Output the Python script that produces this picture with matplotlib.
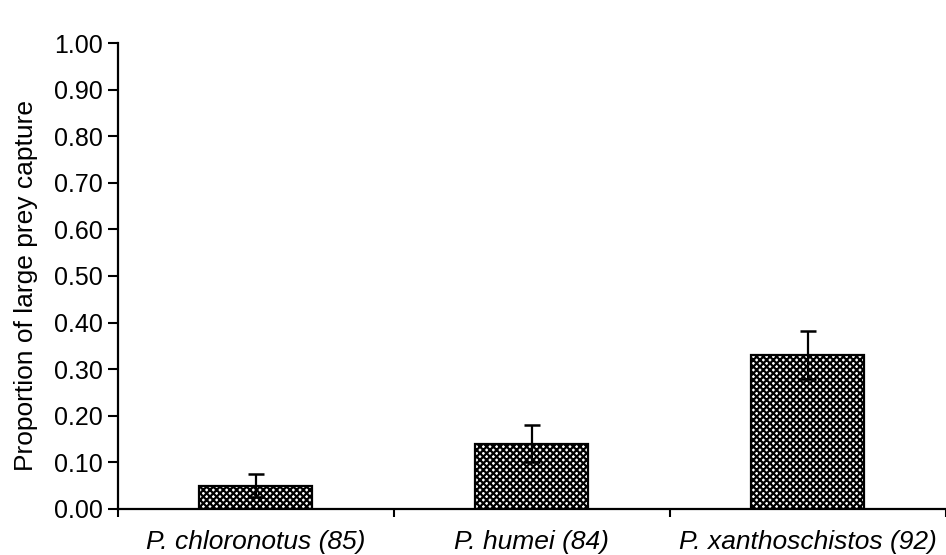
import numpy as np
import matplotlib.pyplot as plt

# proportions of large prey captured, with error bars
species = ["P. chloronotus (85)", "P. humei (84)", "P. xanthoschistos (92)"]
proportion = [0.05, 0.14, 0.33]
error = [0.025, 0.04, 0.052]
y_ticks = [0.0, 0.1, 0.2, 0.3, 0.4, 0.5, 0.6, 0.7, 0.8, 0.9, 1.0]

plt.rcParams["font.family"] = ["Liberation Sans", "DejaVu Sans"]
plt.rcParams["hatch.linewidth"] = 1.6

fig = plt.figure(figsize=(9.46, 5.55), dpi=100)
ax = fig.add_axes([0.1247, 0.083, 0.875, 0.8395])

x = np.arange(len(species))
ax.bar(x, proportion, width=0.41, facecolor="white", edgecolor="black",
       hatch="xxxxx", linewidth=1.6, zorder=2)
ax.errorbar(x, proportion, yerr=error, fmt="none", ecolor="black",
            elinewidth=1.6, capsize=6, capthick=1.8, zorder=3)

ax.set_xlim(-0.5, 2.5)
ax.set_ylim(0, 1.0)
ax.set_yticks(y_ticks)
ax.set_yticklabels([f"{v:.2f}" for v in y_ticks], fontsize=18)
ax.set_ylabel("Proportion of large prey capture", fontsize=19)
ax.yaxis.set_label_coords(-0.097, 0.48)

# category boundaries carry the tick marks, names sit between them
ax.set_xticks([-0.5, 0.5, 1.5, 2.5])
ax.set_xticklabels([])
ax.set_xticks(x, minor=True)
ax.set_xticklabels(species, minor=True, fontsize=19, style="italic")
ax.tick_params(axis="x", which="minor", length=0, pad=15)
ax.tick_params(axis="x", which="major", direction="out", length=6, width=1.5)
ax.tick_params(axis="y", direction="out", length=7, width=1.5, pad=4)

for side in ["top", "right"]:
    ax.spines[side].set_visible(False)
for side in ["left", "bottom"]:
    ax.spines[side].set_linewidth(1.6)

fig.savefig("out.png", dpi=100)
